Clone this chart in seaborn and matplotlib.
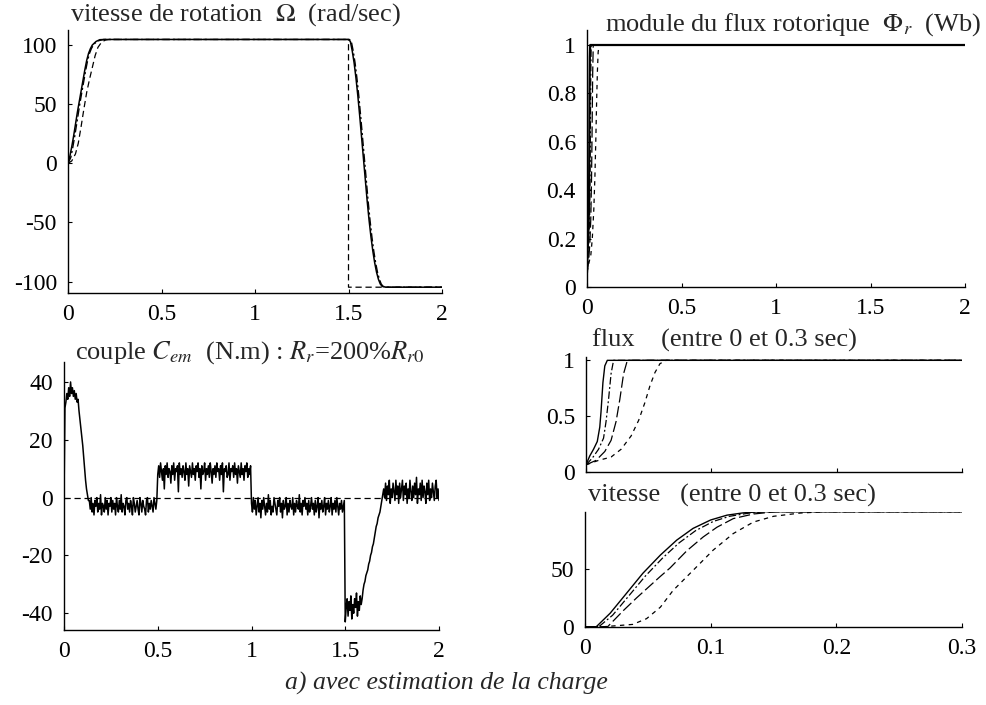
import numpy as np
import matplotlib
matplotlib.use("Agg")
import matplotlib.pyplot as plt
import seaborn as sns

# ---------------- data ----------------
# rotor speed (rad/s), 0..2 s
vit_t_mes = [0, 0.01, 0.02, 0.03, 0.04, 0.05, 0.06, 0.07, 0.08, 0.09, 0.1, 0.11, 0.12, 0.13,
             0.15, 0.17, 0.2, 1.5, 1.51, 1.52, 1.53, 1.54, 1.55, 1.56, 1.57, 1.58, 1.59, 1.6,
             1.61, 1.62, 1.63, 1.64, 1.65, 1.66, 1.67, 1.68, 1.7, 2.0]
vit_mes = [0, 6, 14, 23, 33, 43, 52, 61, 70, 79, 87, 93, 97, 100,
           103, 104.5, 104.7, 104.7, 103, 95, 85, 72, 57, 40, 22, 4, -14, -32,
           -48, -62, -74, -84, -92, -98, -102, -104, -104.7, -104.7]
vit_t_est = [0, 0.015, 0.025, 0.035, 0.045, 0.055, 0.065, 0.075, 0.085, 0.095, 0.105, 0.115,
             0.125, 0.14, 0.16, 0.19, 1.5, 1.505, 1.515, 1.525, 1.535, 1.545, 1.555, 1.565,
             1.575, 1.585, 1.595, 1.605, 1.615, 1.625, 1.635, 1.645, 1.655, 1.665, 1.675,
             1.685, 1.705, 2.0]
vit_est = [0, 5, 13, 22, 32, 42, 52, 61, 70, 79, 87, 93,
           97, 101, 103.5, 104.7, 104.7, 104.7, 103, 95, 85, 72, 57, 40,
           22, 4, -14, -32, -48, -62, -74, -84, -92, -98, -102,
           -104, -104.7, -104.7]
vit_t_ref = [0, 0.02, 0.04, 0.055, 0.07, 0.085, 0.1, 0.115, 0.13, 0.145, 0.16, 0.18, 0.2,
             0.22, 1.5, 1.5, 2.0]
vit_ref = [0, 2, 8, 17, 31, 46, 60, 71, 81, 91, 98, 102.5, 104.2,
           104.7, 104.7, -104.7, -104.7]

# electromagnetic torque (N.m), sampled every 5 ms
couple_dt = 0.005
couple = [
    0, 31, 33, 36, 34, 38, 35, 40, 36, 38, 35, 37, 34, 36, 33, 34, 30, 27, 24, 21, 18, 14, 10, 6, 3, 1, -1,
    -1, -4, 0, -5, -2, -6, -1, -3, 0, -5, -2, -4, 1, -6, -2, -3, -5, 0, -4, -1,
    -6, -2, -3, 0, -5, -1, -4, -2, -6, 0, -3, -5, -1, -4, 1, -5, -2, -3, -6, -1,
    0, -4, -2, -5, -1, -3, -6, 0, -2, -5, -3, -1, -4, -6, 0, -2, -5, -1, -3, -4,
    -6, -1, 0, -5, -2, -4, -1, -3, -5, 0, -2, -4, -1,
    8, 11, 7, 12, 9, 6, 10, 3, 11, 8, 12, 7, 10, 9, 5, 11, 8, 12, 6, 10,
    9, 11, 2, 12, 8, 10, 7, 11, 9, 6, 12, 8, 10, 4, 11, 9, 7, 12, 8, 10,
    6, 11, 9, 12, 7, 10, 3, 11, 8, 9, 12, 6, 10, 8, 11, 7, 12, 9, 5, 10,
    8, 11, 7, 12, 9, 10, 6, 11, 8, 12, 2, 10, 9, 11, 7, 8, 12, 6, 10, 9,
    11, 7, 12, 8, 10, 5, 11, 9, 7, 12, 8, 10, 6, 11, 9, 12, 7, 10, 8, 11,
    -2, -5, 0, -4, -1, -6, -3, 0, -5, -2, -7, -1, -4, 0, -3, -6, -2, -5, 1, -4,
    -1, -6, -3, -5, 0, -2, -4, -6, -1, -3, 0, -5, -2, -7, -1, -4, -3, 0, -6, -2,
    -5, -1, -3, -4, 0, -6, -2, -5, -1, -3, -4, 1, -5, -2, -6, -1, -3, 0, -4, -2,
    -6, -1, -5, -3, 0, -4, -2, -6, -1, -5, -3, 0, -7, -2, -4, -1, -5, -3, 0, -6,
    -2, -4, -1, -5, -3, 0, -6, -2, -4, -1, -5, 0, -3, -6, -2, -4, -1, -5, -3, -1,
    -43,
    -38, -35, -41, -36, -39, -34, -42, -37, -40, -35, -38, -33, -41, -36, -39, -34, -37, -35,
    -32, -30, -29, -27, -26, -25, -23, -22, -20, -19, -17, -16, -14, -12, -10, -9, -7, -6,
    -5, -3, -1, 1,
    3, 0, 5, -1, 4, 1, 6, -2, 3, 0, 5, 2, -1, 6, 1, 4, -2, 5, 0, 3,
    6, -1, 4, 1, 5, -2, 3, 0, 6, 2, -1, 4, 0, 5, 1, 7, -2, 3, 1, 5,
    -1, 6, 0, 4, 2, -2, 5, 1, 6, -1, 3, 0, 5, 2, -1, 4, 6, 0, 3, -1,
]
couple_t = np.arange(len(couple)) * couple_dt
charge_t = [0, 2.0]
charge = [0, 0]

# rotor flux modulus (Wb), four cases
flux_t_a = [0, 0.003, 0.006, 0.009, 0.011, 0.012, 0.0135, 0.015, 0.017, 2.0]
flux_a = [0.06, 0.14, 0.2, 0.27, 0.4, 0.54, 0.8, 0.95, 1.0, 1.0]
flux_t_b = [0, 0.005, 0.01, 0.014, 0.016, 0.018, 0.02, 0.022, 2.0]
flux_b = [0.06, 0.12, 0.2, 0.3, 0.45, 0.65, 0.88, 1.0, 1.0]
flux_t_c = [0, 0.008, 0.015, 0.02, 0.024, 0.027, 0.03, 0.033, 2.0]
flux_c = [0.06, 0.1, 0.18, 0.28, 0.45, 0.65, 0.88, 1.0, 1.0]
flux_t_d = [0, 0.01, 0.02, 0.028, 0.036, 0.042, 0.047, 0.051, 0.055, 0.059, 0.064, 2.0]
flux_d = [0.06, 0.1, 0.13, 0.2, 0.32, 0.46, 0.62, 0.77, 0.89, 0.97, 1.0, 1.0]

# speed during start-up, four cases
dem_t_a = [0, 0.009, 0.02, 0.033, 0.046, 0.06, 0.073, 0.086, 0.1, 0.113, 0.126, 0.14, 0.3]
dem_a = [0, 0, 11.7, 29, 46.4, 62.3, 75.3, 85.5, 92.8, 97, 99, 100, 100]
dem_t_b = [0, 0.011, 0.022, 0.035, 0.048, 0.062, 0.075, 0.088, 0.102, 0.115, 0.13, 0.145, 0.3]
dem_b = [0, 0, 10, 27, 44, 60, 73, 83.5, 91.5, 96, 98.7, 100, 100]
dem_t_c = [0, 0.018, 0.0305, 0.041, 0.0597, 0.0676, 0.081, 0.094, 0.105, 0.118, 0.134, 0.152, 0.3]
dem_c = [0, 0, 14, 25, 43.5, 51, 66, 78, 86.5, 94, 98, 100, 100]
dem_t_d = [0, 0.015, 0.038, 0.049, 0.06, 0.07, 0.081, 0.0915, 0.102, 0.118, 0.134, 0.15,
           0.171, 0.19, 0.3]
dem_d = [0, 0, 2, 7, 17, 31.4, 43.5, 55, 66.6, 81, 91, 96, 98.8, 100, 100]

# tick labels
ticks_t2 = [0, 0.5, 1, 1.5, 2]
ticks_t2_lbl = ["0", "0.5", "1", "1.5", "2"]
ticks_t03 = [0, 0.1, 0.2, 0.3]
ticks_t03_lbl = ["0", "0.1", "0.2", "0.3"]

# ---------------- style ----------------
sns.set_style("ticks")
plt.rcParams["font.family"] = ["Liberation Serif", "DejaVu Serif"]
plt.rcParams["mathtext.fontset"] = "stix"

SOLID = "-"
DASH = (0, (5, 3))
DASHDOT = (0, (6, 2, 1.5, 2))
LONGDASH = (0, (9, 3))
SHORTDASH = (0, (3.5, 3.5))

fig = plt.figure(figsize=(9.86, 7.05), dpi=100)
fig.patch.set_facecolor("white")


def add_axes(px_left, px_right, px_top, px_bottom):
    W, H = 986.0, 705.0
    return fig.add_axes([px_left / W, 1 - px_bottom / H,
                         (px_right - px_left) / W, (px_bottom - px_top) / H])


def trace(ax, t, v, ls, lw=1.0):
    sns.lineplot(x=t, y=v, ax=ax, color="black", linestyle=ls, linewidth=lw,
                 estimator=None, sort=False, legend=False)


def frame(ax):
    for side in ("top", "right"):
        ax.spines[side].set_visible(False)
    for side in ("left", "bottom"):
        ax.spines[side].set_linewidth(1.0)
        ax.spines[side].set_color("black")
    ax.tick_params(direction="in", length=3, width=0.8, labelsize=17, pad=8, colors="black")
    ax.set_xlabel("")
    ax.set_ylabel("")
    ax.set_facecolor("white")


def title(ax, text, dx, dy, size=19):
    ax.annotate(text, xy=(0, 1), xycoords="axes fraction", xytext=(dx, dy),
                textcoords="offset pixels", ha="left", va="center", fontsize=size)


# speed over the whole run
ax1 = add_axes(68, 442, 30, 293)
trace(ax1, vit_t_ref, vit_ref, DASH, 0.9)
trace(ax1, vit_t_est, vit_est, DASHDOT, 1.0)
trace(ax1, vit_t_mes, vit_mes, SOLID, 1.1)
ax1.set_xlim(0, 2)
ax1.set_ylim(-109.6, 112.7)
ax1.set_xticks(ticks_t2, ticks_t2_lbl)
ax1.set_yticks([-100, -50, 0, 50, 100], ["-100", "-50", "0", "50", "100"])
frame(ax1)
title(ax1, r"vitesse de rotation  $\Omega$  (rad/sec)", 2, 15)

# rotor flux over the whole run
ax2 = add_axes(587, 965, 30, 287)
trace(ax2, flux_t_d, flux_d, SHORTDASH, 0.9)
trace(ax2, flux_t_c, flux_c, LONGDASH, 0.9)
trace(ax2, flux_t_b, flux_b, DASHDOT, 0.9)
trace(ax2, flux_t_a, flux_a, SOLID, 1.6)
ax2.set_xlim(0, 2)
ax2.set_ylim(0, 1.062)
ax2.set_xticks(ticks_t2, ticks_t2_lbl)
ax2.set_yticks([0, 0.2, 0.4, 0.6, 0.8, 1], ["0", "0.2", "0.4", "0.6", "0.8", "1"])
frame(ax2)
title(ax2, r"module du flux rotorique  $\Phi_r$  (Wb)", 18, 5)

# electromagnetic torque
ax3 = add_axes(64, 439, 362, 630)
trace(ax3, charge_t, charge, DASH, 0.9)
trace(ax3, couple_t, couple, SOLID, 1.1)
ax3.set_xlim(0, 2)
ax3.set_ylim(-45.8, 46.9)
ax3.set_xticks(ticks_t2, ticks_t2_lbl)
ax3.set_yticks([-40, -20, 0, 20, 40], ["-40", "-20", "0", "20", "40"])
frame(ax3)
title(ax3, r"couple $C_{em}$  (N.m) : $R_r$=200%$R_{r0}$", 11, 9)

# flux during start-up
ax4 = add_axes(586, 962, 357, 471.5)
trace(ax4, flux_t_d, flux_d, SHORTDASH, 0.9)
trace(ax4, flux_t_c, flux_c, LONGDASH, 0.9)
trace(ax4, flux_t_b, flux_b, DASHDOT, 0.9)
trace(ax4, flux_t_a, flux_a, SOLID, 1.0)
ax4.set_xlim(0, 0.3)
ax4.set_ylim(0, 1.03)
ax4.set_xticks(ticks_t03, ["", "", "", ""])
ax4.set_yticks([0, 0.5, 1], ["0", "0.5", "1"])
frame(ax4)
title(ax4, "flux    (entre 0 et 0.3 sec)", 6, 17)

# speed during start-up
ax5 = add_axes(585, 962, 511.7, 626.7)
trace(ax5, dem_t_d, dem_d, SHORTDASH, 0.9)
trace(ax5, dem_t_c, dem_c, LONGDASH, 0.9)
trace(ax5, dem_t_b, dem_b, DASHDOT, 0.9)
trace(ax5, dem_t_a, dem_a, SOLID, 1.0)
ax5.set_xlim(0, 0.3)
ax5.set_ylim(0, 100)
ax5.set_xticks(ticks_t03, ticks_t03_lbl)
ax5.set_yticks([0, 50], ["0", "50"])
frame(ax5)
title(ax5, "vitesse   (entre 0 et 0.3 sec)", 3, 16)

fig.text(446 / 986, 1 - 683 / 705, "a) avec estimation de la charge",
         ha="center", va="center", fontsize=18.5, style="italic")

fig.savefig("out.png", dpi=100, facecolor="white")
